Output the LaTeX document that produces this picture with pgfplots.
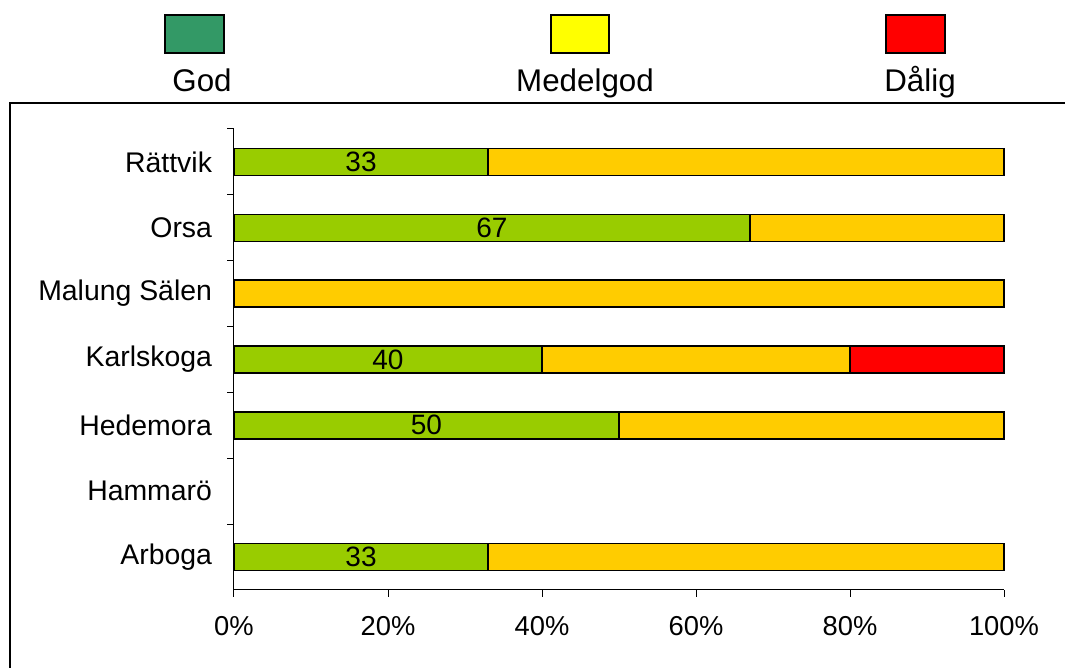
\documentclass[border=0pt]{standalone}
\usepackage{pgfplots}
\pgfplotsset{compat=1.18}
\usepackage{fontspec}
\setmainfont{Liberation Sans}

\definecolor{godbar}{HTML}{99CC00}
\definecolor{medbar}{HTML}{FFCC00}
\definecolor{dalbar}{HTML}{FF0000}
\definecolor{godleg}{HTML}{339966}
\definecolor{medleg}{HTML}{FFFF00}

\begin{document}
\begin{tikzpicture}[x=1pt,y=1pt]
\useasboundingbox (0,0) rectangle (798.75,501);
% outer frame (only top and left are inside the picture)
\begin{scope}
\clip (0,0) rectangle (798.75,501);
\draw[line width=1.5pt] (840,423.75) -- (7.5,423.75) -- (7.5,-20);
\end{scope}

% legend
\draw[fill=godleg, line width=1pt] (123.75,461.25) rectangle (168,489.75);
\draw[fill=medleg, line width=1pt] (413.25,461.25) rectangle (456.75,489.75);
\draw[fill=dalbar, line width=1pt] (664.5,461.25) rectangle (708.75,489.75);
\node[font=\fontsize{23.5}{28}\selectfont, anchor=base] at (151.5,432) {God};
\node[font=\fontsize{23.5}{28}\selectfont, anchor=base] at (438.75,432) {Medelgod};
\node[font=\fontsize{23.5}{28}\selectfont, anchor=base] at (690,432) {Dålig};

\begin{axis}[
  at={(175.5pt,58.5pt)}, anchor=south west,
  scale only axis, width=577.5pt, height=345.75pt,
  xbar stacked, bar width=20.25pt,
  xmin=0, xmax=100, ymin=0.5, ymax=7.5,
  axis lines*=left,
  axis line style={line width=0.75pt},
  tick align=outside,
  major tick length=5pt,
  tick style={black, line width=0.75pt},
  xtick={0,20,40,60,80,100},
  xticklabels={0\%,20\%,40\%,60\%,80\%,100\%},
  ytick={1.5,2.5,3.5,4.5,5.5,6.5,7.5},
  yticklabels={Arboga,Hammarö,Hedemora,Karlskoga,Malung Sälen,Orsa,Rättvik},
  yticklabel style={yshift=-24.7pt, xshift=-8pt, font=\fontsize{21.3}{25}\selectfont},
  xticklabel style={yshift=-11.5pt, font=\fontsize{20.5}{24}\selectfont},
  clip=false,
]
% God
\addplot[fill=godbar, draw=black, line width=1pt,
  nodes near coords, point meta=explicit symbolic,
  every node near coord/.append style={anchor=center,
    font=\fontsize{21}{25}\selectfont}]
  coordinates {(33,7)[33] (67,6)[67] (0,5)[] (40,4)[40] (50,3)[50] (33,1)[33]};
% Medelgod
\addplot[fill=medbar, draw=black, line width=1pt]
  coordinates {(67,7) (33,6) (100,5) (40,4) (50,3) (67,1)};
% Dålig
\addplot[fill=dalbar, draw=black, line width=1pt]
  coordinates {(0,7) (0,6) (0,5) (20,4) (0,3) (0,1)};
\end{axis}
\end{tikzpicture}
\end{document}
